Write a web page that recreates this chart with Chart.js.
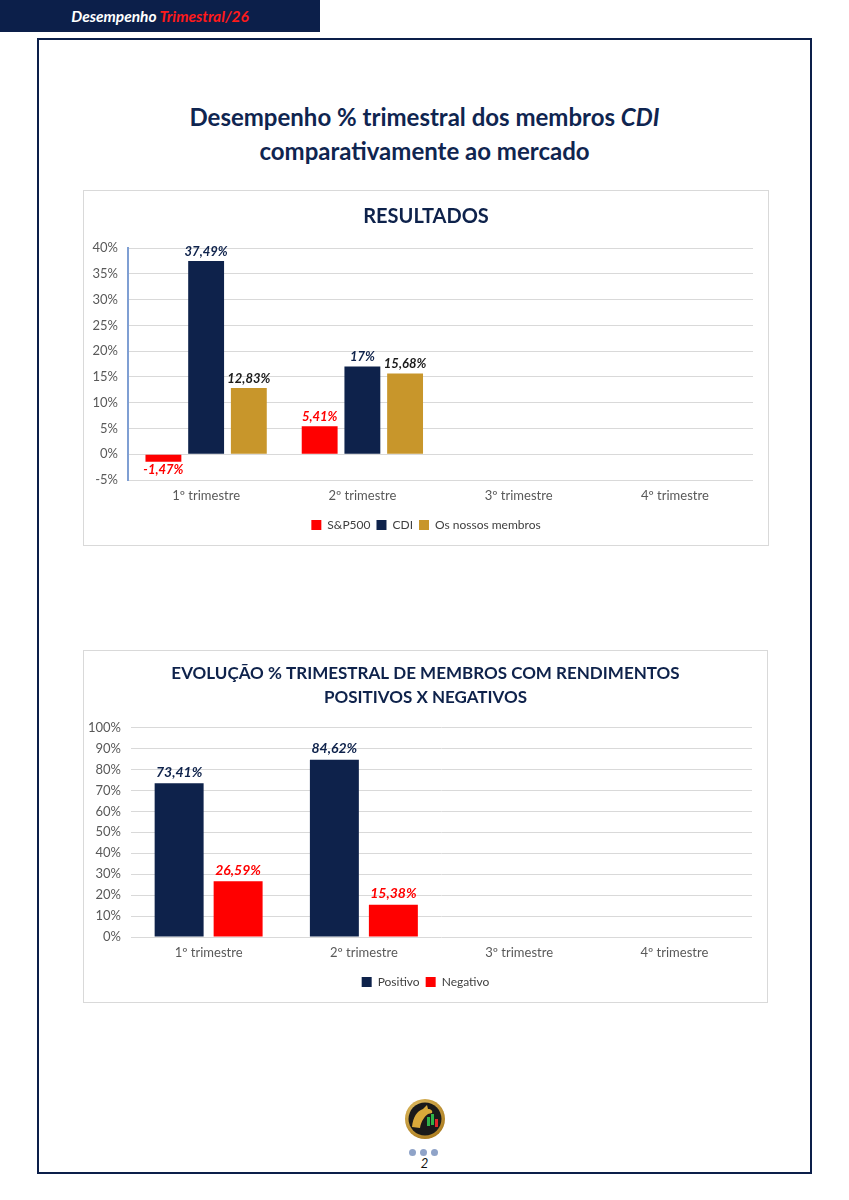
<!DOCTYPE html>
<html>
<head>
<meta charset="utf-8">
<script src="https://cdn.jsdelivr.net/npm/chart.js@4.4.1/dist/chart.umd.min.js"></script>
<style>
  html, body { margin: 0; padding: 0; background: #fff; }
  body { width: 849px; height: 1200px; position: relative; font-family: Lato, "Noto Sans", sans-serif; overflow: hidden; }
  .banner { position: absolute; left: 0; top: 0; width: 320px; height: 32px; background: #0c1f4a;
    color: #fff; font: italic bold 15.5px Lato, sans-serif; text-align: center; line-height: 32px; }
  .banner span { color: #ff1a1a; }
  .frame { position: absolute; left: 37px; top: 38px; width: 771px; height: 1132px; border: 2px solid #0c1f4a; }
  .title { position: absolute; left: 37px; width: 775px; top: 100px; text-align: center; color: #0f2550;
    font: bold 24px Lato, sans-serif; line-height: 34px; }
  .box { position: absolute; border: 1px solid #d9d9d9; background: #fff; }
  .box canvas { display: block; }
  .dot { position: absolute; top: 1149px; width: 7px; height: 7px; border-radius: 50%; background: #8fa3c8; }
  .page { position: absolute; top: 1155px; left: 0; width: 849px; text-align: center; font: italic 13px Lato, sans-serif; color: #111; }
  .logo { position: absolute; left: 403px; top: 1097px; }
</style>
</head>
<body>
<div class="banner">Desempenho <span>Trimestral/26</span></div>
<div class="frame"></div>
<div class="title">Desempenho % trimestral dos membros <i>CDI</i><br>comparativamente ao mercado</div>

<div class="box" style="left:83px; top:190px;"><canvas id="c1" width="684" height="354" style="width:684px;height:354px"></canvas></div>
<div class="box" style="left:83px; top:650px;"><canvas id="c2" width="683" height="351" style="width:683px;height:351px"></canvas></div>

<svg class="logo" width="44" height="44" viewBox="0 0 44 44">
  <defs>
    <radialGradient id="g" cx="40%" cy="35%" r="70%">
      <stop offset="0" stop-color="#f6d77a"/><stop offset="1" stop-color="#a8781c"/>
    </radialGradient>
  </defs>
  <circle cx="22" cy="22" r="20" fill="url(#g)"/>
  <circle cx="22" cy="22" r="16.5" fill="#1a1a1a"/>
  <path d="M9 30 C10 20 14 14 20 12 L24 8 L25 12 C28 12 30 14 29 16 L25 17 C22 19 18 24 17 31 Z" fill="#d9a93a"/>
  <rect x="24" y="20" width="3" height="9" fill="#2fb34a"/>
  <rect x="28" y="17" width="3" height="11" fill="#2fb34a"/>
  <rect x="32" y="22" width="3" height="8" fill="#e0262b"/>
</svg>
<div class="dot" style="left:409px"></div>
<div class="dot" style="left:420px"></div>
<div class="dot" style="left:431px"></div>
<div class="page">2</div>

<script>
const categories = ["1º trimestre", "2º trimestre", "3º trimestre", "4º trimestre"];
const sp500 = [-1.47, 5.41, null, null];
const cdi = [37.49, 17, null, null];
const membros = [12.83, 15.68, null, null];
const positivo = [73.41, 84.62, null, null];
const negativo = [26.59, 15.38, null, null];

const NAVY = "#0e224b";
const RED = "#ff0000";
const GOLD = "#c8962b";
const GRID = "#d9d9d9";
const TICK = "#595959";

function fmt(v) {
  return String(v).replace(".", ",") + "%";
}

// draws the value labels above (or below, if negative) each bar
const valueLabels = {
  id: "valueLabels",
  afterDatasetsDraw(chart, args, opts) {
    const ctx = chart.ctx;
    ctx.save();
    ctx.font = "italic bold " + (opts.size || 13) + "px Lato, sans-serif";
    ctx.textAlign = "center";
    chart.data.datasets.forEach((ds, i) => {
      const meta = chart.getDatasetMeta(i);
      meta.data.forEach((bar, j) => {
        const v = ds.data[j];
        if (v === null || v === undefined) return;
        ctx.fillStyle = ds.labelColor;
        if (v >= 0) {
          ctx.textBaseline = "bottom";
          ctx.fillText(fmt(v), bar.x, bar.y - (opts.gap || 3));
        } else {
          ctx.textBaseline = "top";
          ctx.fillText(fmt(v), bar.x, bar.y + 2);
        }
      });
    });
    ctx.restore();
  }
};

function baseOptions(titleText, titleSize, yMin, yMax, step, yWidth, titlePad) {
  return {
    responsive: false,
    animation: false,
    layout: { padding: { left: 0, right: 0, top: 0, bottom: 4 } },
    plugins: {
      title: {
        display: true,
        text: titleText,
        color: NAVY,
        font: { family: "Lato", size: titleSize, weight: "bold", lineHeight: 1.4 },
        padding: titlePad
      },
      legend: {
        position: "bottom",
        labels: { boxWidth: 10, boxHeight: 10, color: "#404040", padding: 6,
          font: { family: "Lato", size: 12 } }
      },
      tooltip: { enabled: false }
    },
    scales: {
      x: {
        grid: { display: false },
        border: { display: false },
        ticks: { color: TICK, font: { family: "Lato", size: 13 }, padding: 0 },
        afterFit: (s) => { s.height = 33; }
      },
      y: {
        min: yMin,
        max: yMax,
        ticks: { stepSize: step, color: TICK, font: { family: "Lato", size: 13 }, padding: 10,
          callback: (v) => v + "%" },
        grid: { color: GRID, drawTicks: false },
        afterFit: (s) => { s.width = yWidth; }
      },
      // empty right-hand axis, only reserves the blank margin on the right
      yPad: {
        position: "right",
        ticks: { display: false },
        grid: { display: false },
        border: { display: false },
        afterFit: (s) => { s.width = 15; }
      }
    }
  };
}

const opt1 = baseOptions("RESULTADOS", 20, -5, 40, 5, 44, { top: 12, bottom: 17 });
opt1.scales.y.border = { display: true, color: "#7f9fd3", width: 2 };
opt1.plugins.valueLabels = { size: 13, gap: 3 };

new Chart(document.getElementById("c1"), {
  type: "bar",
  data: {
    labels: categories,
    datasets: [
      { label: "S&P500", data: sp500, backgroundColor: RED, labelColor: RED,
        categoryPercentage: 0.82, barPercentage: 0.84 },
      { label: "CDI", data: cdi, backgroundColor: NAVY, labelColor: NAVY,
        categoryPercentage: 0.82, barPercentage: 0.84 },
      { label: "Os nossos membros", data: membros, backgroundColor: GOLD, labelColor: "#1b1b1b",
        categoryPercentage: 0.82, barPercentage: 0.84 }
    ]
  },
  options: opt1,
  plugins: [valueLabels]
});

const opt2 = baseOptions(["EVOLUÇÃO % TRIMESTRAL DE MEMBROS COM RENDIMENTOS", "POSITIVOS X NEGATIVOS"],
  17, 0, 100, 10, 47, { top: 11, bottom: 18 });
opt2.scales.y.border = { display: false };
opt2.plugins.valueLabels = { size: 14, gap: 4 };

new Chart(document.getElementById("c2"), {
  type: "bar",
  data: {
    labels: categories,
    datasets: [
      { label: "Positivo", data: positivo, backgroundColor: NAVY, labelColor: NAVY,
        categoryPercentage: 0.76, barPercentage: 0.83 },
      { label: "Negativo", data: negativo, backgroundColor: RED, labelColor: RED,
        categoryPercentage: 0.76, barPercentage: 0.83 }
    ]
  },
  options: opt2,
  plugins: [valueLabels]
});
</script>
</body>
</html>
